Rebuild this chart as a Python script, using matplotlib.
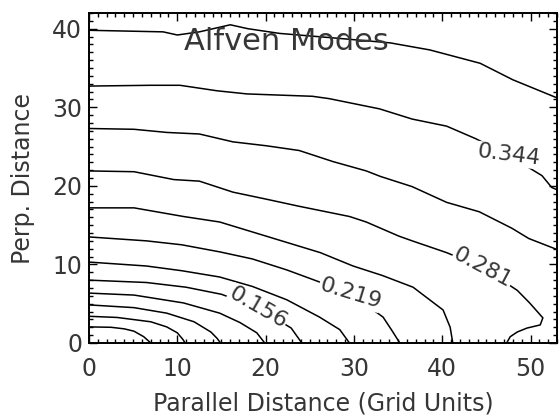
import matplotlib
matplotlib.use("Agg")
import matplotlib.pyplot as plt
from matplotlib.ticker import MultipleLocator

# contour levels, IDL style (every other level carries a label)
levels = [0.031, 0.062, 0.094, 0.125, 0.156, 0.188,
          0.219, 0.250, 0.281, 0.312, 0.344, 0.375]

# traced contour paths, (parallel, perp) in grid units, one pair per level
c01_x = [0.0, 2.5, 4.0, 5.1, 6.2, 7.0]
c01_y = [2.05, 2.0, 1.8, 1.5, 0.8, 0.0]
c02_x = [0.0, 3.2, 7.0, 8.8, 10.0, 10.6, 10.9]
c02_y = [3.4, 3.25, 2.7, 2.05, 1.3, 0.5, 0.0]
c03_x = [0.0, 5.1, 8.8, 11.9, 13.8, 14.5, 14.9]
c03_y = [4.85, 4.5, 3.8, 2.7, 1.4, 0.6, 0.0]
c04_x = [0.0, 5.1, 10.7, 14.8, 17.1, 19.0, 19.9]
c04_y = [6.35, 6.1, 5.1, 3.8, 2.6, 1.3, 0.0]
c05_x = [0.0, 6.5, 11.0, 15.0, 19.1, 22.9, 24.1]
c05_y = [8.0, 7.7, 7.1, 6.2, 4.5, 1.9, 0.0]
c06_x = [0.0, 6.5, 10.5, 14.8, 18.5, 22.4, 26.1, 28.4, 29.5]
c06_y = [10.3, 9.8, 9.2, 8.4, 7.2, 5.5, 3.3, 1.7, 0.0]
c07_x = [0.0, 6.5, 10.5, 14.8, 18.5, 22.4, 25.3, 29.6, 33.3, 34.3, 35.2]
c07_y = [13.5, 13.0, 12.5, 11.6, 10.7, 9.3, 8.1, 6.3, 3.3, 1.6, 0.0]
c08_x = [0.0, 5.1, 10.7, 14.8, 18.6, 22.4, 26.2, 29.9, 33.2, 36.7, 40.1, 40.9, 41.2]
c08_y = [17.2, 17.2, 16.1, 15.4, 14.1, 12.8, 11.5, 9.8, 8.6, 7.1, 4.2, 2.0, 0.0]
c09_x = [0.0, 5.1, 9.6, 12.5, 16.3, 20.1, 23.8, 29.5, 31.4, 35.1, 36.6, 40.5,
         44.6, 48.5, 49.9, 51.4, 51.1, 49.6, 48.5, 47.7, 47.3]
c09_y = [21.9, 21.8, 20.8, 20.6, 19.2, 18.3, 17.4, 16.1, 15.4, 13.6, 13.0, 11.5,
         9.6, 6.7, 5.1, 3.2, 2.3, 1.9, 1.4, 0.8, 0.0]
c10_x = [0.0, 5.1, 8.8, 12.5, 16.3, 20.1, 23.8, 27.6, 31.4, 33.0, 36.6, 40.5,
         44.2, 47.9, 49.8, 53.0]
c10_y = [27.3, 27.2, 26.8, 26.6, 25.6, 25.1, 24.5, 23.1, 21.9, 21.2, 19.9, 17.9,
         16.7, 14.6, 13.3, 11.9]
c11_x = [0.0, 7.0, 10.3, 14.5, 17.9, 25.3, 27.2, 32.9, 36.6, 40.5, 43.8, 47.5,
         51.3, 52.4, 53.0]
c11_y = [32.7, 32.8, 32.8, 32.1, 31.7, 31.4, 31.1, 29.8, 28.5, 27.6, 26.0, 23.9,
         21.3, 19.8, 19.5]
c12_x = [0.0, 8.4, 10.0, 12.5, 16.0, 18.0, 21.6, 28.0, 34.1, 38.6, 44.3, 48.0, 53.0]
c12_y = [39.8, 39.6, 39.2, 39.6, 40.5, 40.0, 39.4, 38.8, 38.2, 37.3, 35.6, 33.5, 31.2]

# inline labels: text, anchor on the contour, rotation
label_text = ["0.156", "0.219", "0.281", "0.344"]
label_x = [19.1, 29.6, 44.6, 47.5]
label_y = [4.5, 6.3, 9.6, 23.9]
label_rot = [-30, -17, -28, -7]

paths = [(c01_x, c01_y), (c02_x, c02_y), (c03_x, c03_y), (c04_x, c04_y),
         (c05_x, c05_y), (c06_x, c06_y), (c07_x, c07_y), (c08_x, c08_y),
         (c09_x, c09_y), (c10_x, c10_y), (c11_x, c11_y), (c12_x, c12_y)]

TXT = "#363636"
plt.rcParams["font.family"] = ["DejaVu Sans"]
plt.rcParams["font.size"] = 17
plt.rcParams["text.color"] = TXT
plt.rcParams["axes.labelcolor"] = TXT
plt.rcParams["xtick.labelcolor"] = TXT
plt.rcParams["ytick.labelcolor"] = TXT

fig = plt.figure(figsize=(5.6, 4.18), dpi=100)
ax = fig.add_axes([89 / 560, 1 - 343 / 418, 468 / 560, 330 / 418])

for (px, py), lev in zip(paths, levels):
    ax.plot(px, py, color="black", lw=1.1, solid_joinstyle="round")

for t, x, y, r in zip(label_text, label_x, label_y, label_rot):
    ax.text(x, y, t, rotation=r, rotation_mode="anchor", ha="center", va="center",
            fontsize=16, bbox=dict(facecolor="white", edgecolor="none", pad=0.5))

ax.text(22.3, 38.4, "Alfven Modes", ha="center", va="center", fontsize=22)

ax.set_xlim(0, 53)
ax.set_ylim(0, 42)
ax.xaxis.set_major_locator(MultipleLocator(10))
ax.xaxis.set_minor_locator(MultipleLocator(1))
ax.yaxis.set_major_locator(MultipleLocator(10))
ax.yaxis.set_minor_locator(MultipleLocator(1))
ax.tick_params(which="both", direction="in", top=True, right=True, width=1)
ax.tick_params(which="major", length=6)
ax.tick_params(which="minor", length=3)
ax.tick_params(axis="x", pad=10)
ax.tick_params(axis="y", pad=5)
for s in ax.spines.values():
    s.set_linewidth(1.4)

ax.set_xlabel("Parallel Distance (Grid Units)", labelpad=8)
ax.set_ylabel("Perp. Distance", labelpad=12)

fig.savefig("out.png", dpi=100)
